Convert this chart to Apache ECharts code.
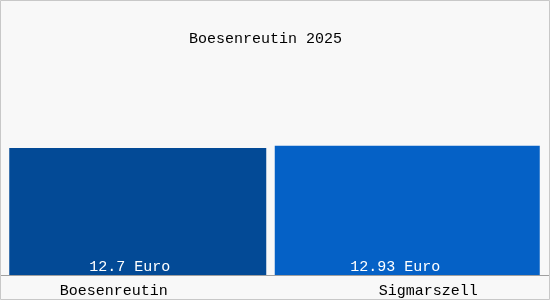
<!DOCTYPE html>
<html>
<head>
<meta charset="utf-8">
<script src="https://cdn.jsdelivr.net/npm/echarts@6/dist/echarts.min.js"></script>
<style>html,body{margin:0;padding:0;}#c{width:550px;height:300px;}</style>
</head>
<body>
<div id="c"></div>
<script>
const titleText = 'Boesenreutin 2025';
const categories = ['Boesenreutin', 'Sigmarszell'];
const values = [12.7, 12.93];
const valueLabels = ['12.7 Euro', '12.93 Euro'];
const colors = ['#034a96', '#0561c6'];

const FONT = 'Liberation Mono';
const chart = echarts.init(document.getElementById('c'), null, {renderer: 'canvas'});
chart.setOption({
  backgroundColor: '#f8f8f8',
  animation: false,
  title: {
    text: titleText, left: 184, top: 27,
    textStyle: {fontFamily: FONT, fontSize: 15, fontWeight: 'normal', color: '#000'}
  },
  graphic: [{
    type: 'rect', shape: {x: 0.5, y: 0.5, width: 549, height: 299},
    style: {fill: 'none', stroke: '#c8c8c8', lineWidth: 1}, silent: true, z: 100
  }],
  grid: [
    {left: 9, right: 10, top: 25, bottom: 25},
    {left: 0, right: 0, top: 25, bottom: 25}
  ],
  xAxis: [{
    type: 'category', data: categories, gridIndex: 0,
    axisLine: {show: false}, axisTick: {show: false},
    axisLabel: {
      margin: 9,
      fontFamily: FONT, fontSize: 15, color: '#000',
      formatter: function (v, i) { return i === 0 ? '{a|' + v + '}' : '{b|' + v + '}'; },
      rich: {
        a: {fontFamily: FONT, fontSize: 15, color: '#000', padding: [0, 56, 0, 0]},
        b: {fontFamily: FONT, fontSize: 15, color: '#000', padding: [0, 0, 0, 42]}
      }
    }
  }, {
    type: 'category', data: categories, gridIndex: 1,
    axisLine: {show: true, lineStyle: {color: '#a0a0a0', width: 1}},
    axisTick: {show: false}, axisLabel: {show: false}
  }],
  yAxis: [
    {type: 'value', min: 0, max: 25, show: false, gridIndex: 0},
    {type: 'value', min: 0, max: 25, show: false, gridIndex: 1}
  ],
  series: [{
    type: 'bar', xAxisIndex: 0, yAxisIndex: 0, barWidth: 257, barGap: '-100%',
    data: [{value: values[0], itemStyle: {color: colors[0]}}, '-'],
    label: {
      show: true, position: 'insideBottom', distance: 0, offset: [-8, 0],
      formatter: function () { return valueLabels[0]; },
      fontFamily: FONT, fontSize: 15, color: '#fff'
    }
  }, {
    type: 'bar', xAxisIndex: 0, yAxisIndex: 0, barWidth: 265, barGap: '-100%',
    data: ['-', {value: values[1], itemStyle: {color: colors[1]}}],
    label: {
      show: true, position: 'insideBottom', distance: 0, offset: [-12, 0],
      formatter: function () { return valueLabels[1]; },
      fontFamily: FONT, fontSize: 15, color: '#fff'
    }
  }]
});
</script>
</body>
</html>
